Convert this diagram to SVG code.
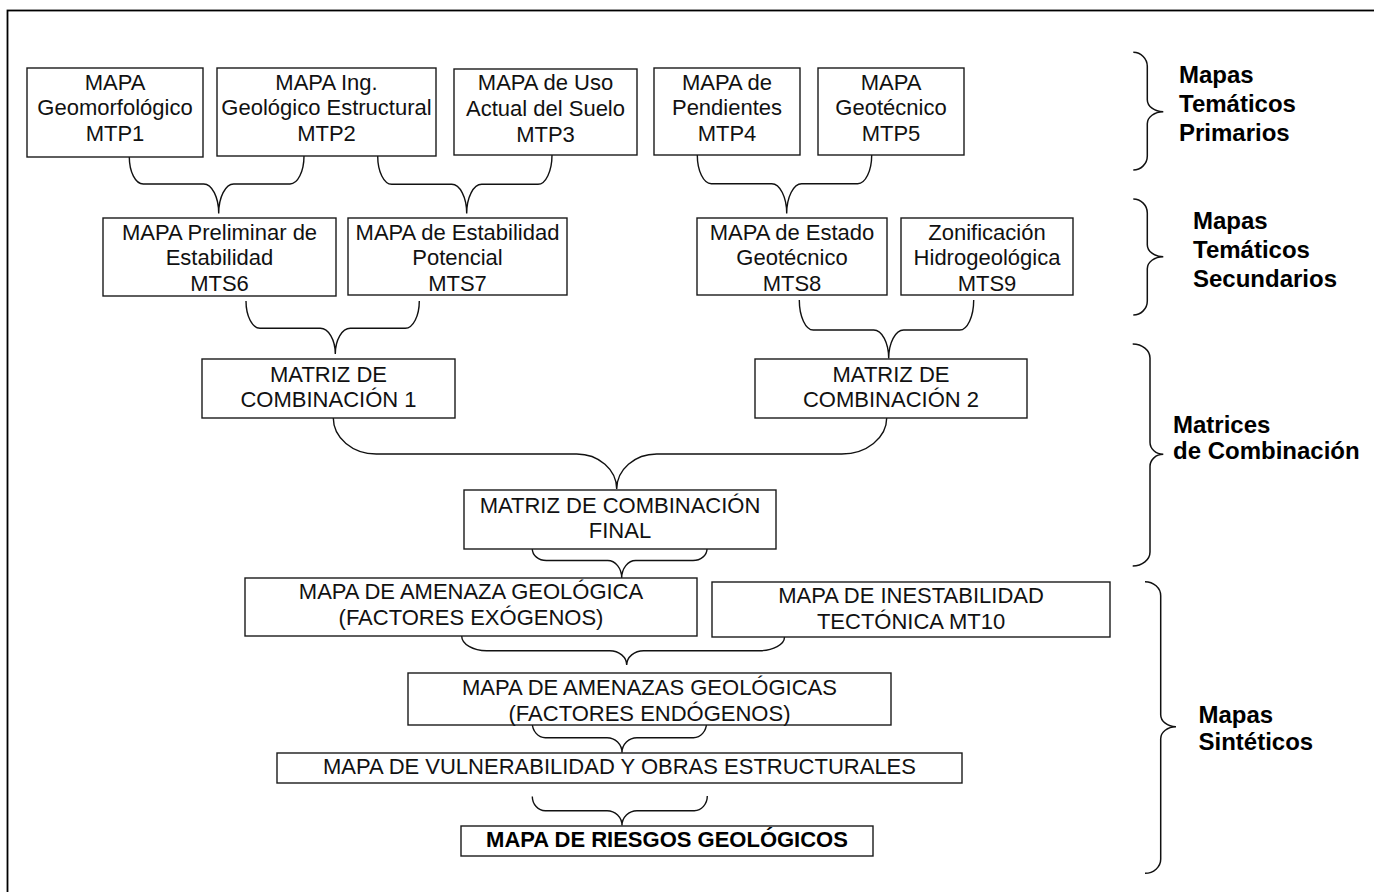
<svg xmlns="http://www.w3.org/2000/svg" width="1374" height="892" viewBox="0 0 1374 892">
<style>
.box{fill:#fff;stroke:#1a1a1a;stroke-width:1.4}
.t{font-family:"Liberation Sans",Arial,Helvetica,sans-serif;font-size:22px;fill:#111;text-anchor:middle}
.tb{font-family:"Liberation Sans",Arial,Helvetica,sans-serif;font-size:22px;font-weight:bold;fill:#000;text-anchor:middle}
.lab{font-family:"Liberation Sans",Arial,Helvetica,sans-serif;font-size:24px;font-weight:bold;fill:#000}
.con{fill:none;stroke:#111;stroke-width:1.4}
.br{fill:none;stroke:#111;stroke-width:1.5}
</style>
<rect x="0" y="0" width="1374" height="892" fill="#fff"/>
<rect id="frame" x="7.5" y="10.5" width="1400" height="900" fill="none" stroke="#000" stroke-width="1.8"/>

<g id="connectors">
<path class="con" d="M129.3,157 C129.3,171.9 135.6,184 143.3,184 L203.7,184 C212,184 218.7,197.3 218.7,213.5 M304,156 C304,171.4 297.7,184 290,184 L233.7,184 C225.45,184 218.7,197.3 218.7,213.5"/>
<path class="con" d="M377.7,156 C377.7,171.6 384,184.3 391.7,184.3 L451.7,184.3 C459.95,184.3 466.7,197.4 466.7,213.5 M552,155 C552,171.1 545.7,184.3 538,184.3 L481.7,184.3 C473.45,184.3 466.7,197.4 466.7,213.5"/>
<path class="con" d="M697.3,155 C697.3,170.8 703.6,183.7 711.3,183.7 L771.7,183.7 C779.95,183.7 786.7,197.1 786.7,213.5 M871.7,155 C871.7,170.8 865.4,183.7 857.7,183.7 L801.7,183.7 C793.45,183.7 786.7,197.1 786.7,213.5"/>
<path class="con" d="M246,301 C246,316 252.3,328.3 260,328.3 L320.3,328.3 C328.55,328.3 335.3,339.9 335.3,354 M419.3,301 C419.3,316 413,328.3 405.3,328.3 L350.3,328.3 C342.05,328.3 335.3,339.9 335.3,354"/>
<path class="con" d="M799.3,300 C799.3,316.5 805.6,330 813.3,330 L873.7,330 C881.95,330 888.7,342.8 888.7,358.5 M973.7,300 C973.7,316.5 967.4,330 959.7,330 L903.7,330 C895.45,330 888.7,342.8 888.7,358.5"/>
<path class="con" d="M333.3,418 C333.3,437.8 352.65,454 376.3,454 L576.7,454 C598.7,454 616.7,469.75 616.7,489 M886.7,418 C886.7,437.8 866.45,454 841.7,454 L656.7,454 C634.7,454 616.7,469.75 616.7,489"/>
<path class="con" d="M532.3,549 C532.3,555.3 538.6,560.5 546.3,560.5 L607.7,560.5 C615.4,560.5 621.7,568.4 621.7,578 M707,549 C707,555.3 700.7,560.5 693,560.5 L635.7,560.5 C628,560.5 621.7,568.4 621.7,578"/>
<path class="con" d="M461.7,636 C461.7,644.1 472.95,650.7 486.7,650.7 L609.7,650.7 C619.05,650.7 626.7,657.1 626.7,665 M784.5,637 C784.5,644.5 773.25,650.7 759.5,650.7 L643.7,650.7 C634.35,650.7 626.7,657.1 626.7,665"/>
<path class="con" d="M532.3,723 C532.3,731.1 538.15,737.7 545.3,737.7 L607,737.7 C615.25,737.7 622,744.45 622,752.7 M706.5,723 C706.5,731.1 700.65,737.7 693.5,737.7 L637,737.7 C628.75,737.7 622,744.45 622,752.7"/>
<path class="con" d="M532.3,796.5 C532.3,804.3 538.15,810.7 545.3,810.7 L607,810.7 C615.25,810.7 622,817.4 622,825.5 M707.3,796 C707.3,804.1 701.45,810.7 694.3,810.7 L637,810.7 C628.75,810.7 622,817.4 622,825.5"/>
</g>

<g id="mtp1"><rect class="box" x="27" y="68" width="176" height="89"/>
<text class="t" x="115" y="89.5">MAPA</text><text class="t" x="115" y="115.2">Geomorfológico</text><text class="t" x="115" y="141">MTP1</text></g>
<g id="mtp2"><rect class="box" x="217" y="68" width="219" height="88"/>
<text class="t" x="326.5" y="89.5">MAPA Ing.</text><text class="t" x="326.5" y="115.2">Geológico Estructural</text><text class="t" x="326.5" y="141">MTP2</text></g>
<g id="mtp3"><rect class="box" x="454" y="69" width="183" height="86"/>
<text class="t" x="545.5" y="90">MAPA de Uso</text><text class="t" x="545.5" y="115.7">Actual del Suelo</text><text class="t" x="545.5" y="141.5">MTP3</text></g>
<g id="mtp4"><rect class="box" x="654" y="68" width="146" height="87"/>
<text class="t" x="727" y="89.5">MAPA de</text><text class="t" x="727" y="115.2">Pendientes</text><text class="t" x="727" y="141">MTP4</text></g>
<g id="mtp5"><rect class="box" x="818" y="68" width="146" height="87"/>
<text class="t" x="891" y="89.5">MAPA</text><text class="t" x="891" y="115.2">Geotécnico</text><text class="t" x="891" y="141">MTP5</text></g>

<g id="mts6"><rect class="box" x="103" y="218" width="233" height="78"/>
<text class="t" x="219.5" y="239.5">MAPA Preliminar de</text><text class="t" x="219.5" y="265">Estabilidad</text><text class="t" x="219.5" y="290.5">MTS6</text></g>
<g id="mts7"><rect class="box" x="348" y="218" width="219" height="77"/>
<text class="t" x="457.5" y="239.5">MAPA de Estabilidad</text><text class="t" x="457.5" y="265">Potencial</text><text class="t" x="457.5" y="290.5">MTS7</text></g>
<g id="mts8"><rect class="box" x="697" y="218" width="190" height="77"/>
<text class="t" x="792" y="239.5">MAPA de Estado</text><text class="t" x="792" y="265">Geotécnico</text><text class="t" x="792" y="290.5">MTS8</text></g>
<g id="mts9"><rect class="box" x="901" y="218" width="172" height="77"/>
<text class="t" x="987" y="239.5">Zonificación</text><text class="t" x="987" y="265">Hidrogeológica</text><text class="t" x="987" y="290.5">MTS9</text></g>

<g id="matriz1"><rect class="box" x="202" y="359" width="253" height="59"/>
<text class="t" x="328.5" y="381.5">MATRIZ DE</text><text class="t" x="328.5" y="407">COMBINACIÓN 1</text></g>
<g id="matriz2"><rect class="box" x="755" y="359" width="272" height="59"/>
<text class="t" x="891" y="381.5">MATRIZ DE</text><text class="t" x="891" y="407">COMBINACIÓN 2</text></g>
<g id="final"><rect class="box" x="464" y="490" width="312" height="59"/>
<text class="t" x="620" y="512.7">MATRIZ DE COMBINACIÓN</text><text class="t" x="620" y="538.3">FINAL</text></g>

<g id="exogenos"><rect class="box" x="245" y="578" width="452" height="58"/>
<text class="t" x="471" y="599.3">MAPA DE AMENAZA GEOLÓGICA</text><text class="t" x="471" y="625">(FACTORES EXÓGENOS)</text></g>
<g id="mt10"><rect class="box" x="712" y="582" width="398" height="55"/>
<text class="t" x="911" y="603.3">MAPA DE INESTABILIDAD</text><text class="t" x="911" y="629">TECTÓNICA MT10</text></g>
<g id="endogenos"><rect class="box" x="408" y="673" width="483" height="52"/>
<text class="t" x="649.5" y="695">MAPA DE AMENAZAS GEOLÓGICAS</text><text class="t" x="649.5" y="720.7">(FACTORES ENDÓGENOS)</text></g>
<g id="vulnerabilidad"><rect class="box" x="277" y="753" width="685" height="30"/>
<text class="t" x="619.5" y="774">MAPA DE VULNERABILIDAD Y OBRAS ESTRUCTURALES</text></g>
<g id="riesgos"><rect class="box" x="461" y="826" width="412" height="30"/>
<text class="tb" x="667" y="847.3">MAPA DE RIESGOS GEOLÓGICOS</text></g>

<g id="group-primarios">
<path class="br" d="M1133.3,52.3 C1141,52.3 1147.3,58.6 1147.3,66.3 L1147.3,99.7 C1147.3,106.3 1154.5,111.7 1163.3,111.7 C1154.5,111.7 1147.3,117.1 1147.3,123.7 L1147.3,156 C1147.3,163.7 1141,170 1133.3,170"/>
<text class="lab" x="1179" y="82.7">Mapas</text><text class="lab" x="1179" y="111.8">Temáticos</text><text class="lab" x="1179" y="140.7">Primarios</text>
</g>
<g id="group-secundarios">
<path class="br" d="M1133.3,199 C1141,199 1147.3,205.3 1147.3,213 L1147.3,244.7 C1147.3,251.3 1154.5,256.7 1163.3,256.7 C1154.5,256.7 1147.3,262.1 1147.3,268.7 L1147.3,301 C1147.3,308.7 1141,315 1133.3,315"/>
<text class="lab" x="1193" y="229.3">Mapas</text><text class="lab" x="1193" y="257.5">Temáticos</text><text class="lab" x="1193" y="286.7">Secundarios</text>
</g>
<g id="group-matrices">
<path class="br" d="M1132.7,344 C1142.2,344 1150,350.3 1150,358 L1150,442.3 C1150,448.9 1156,454.3 1163.3,454.3 C1156,454.3 1150,459.7 1150,466.3 L1150,552 C1150,559.7 1142.2,566 1132.7,566"/>
<text class="lab" x="1173" y="433.3">Matrices</text><text class="lab" x="1173" y="459.3">de Combinación</text>
</g>
<g id="group-sinteticos">
<path class="br" d="M1145,581.7 C1153.6,581.7 1160.7,588 1160.7,595.7 L1160.7,714.7 C1160.7,721.3 1167.6,726.7 1176,726.7 C1167.6,726.7 1160.7,732.1 1160.7,738.7 L1160.7,859.3 C1160.7,867 1153.6,873.3 1145,873.3"/>
<text class="lab" x="1198.5" y="722.7">Mapas</text><text class="lab" x="1198.5" y="750">Sintéticos</text>
</g>
</svg>
